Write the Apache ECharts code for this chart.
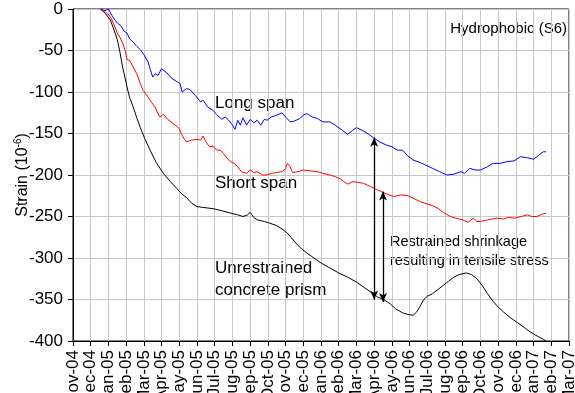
<!DOCTYPE html>
<html>
<head>
<meta charset="utf-8">
<script src="https://cdn.jsdelivr.net/npm/echarts@6/dist/echarts.min.js"></script>
<style>
  html, body { margin: 0; padding: 0; background: #fff; }
  #chart { width: 575px; height: 393px; }
</style>
</head>
<body>
<div id="chart"></div>
<script>
// month tick labels, index 0 = Nov-04
const months = ['Nov-04', 'Dec-04', 'Jan-05', 'Feb-05', 'Mar-05', 'Apr-05', 'May-05', 'Jun-05',
  'Jul-05', 'Aug-05', 'Sep-05', 'Oct-05', 'Nov-05', 'Dec-05', 'Jan-06', 'Feb-06', 'Mar-06',
  'Apr-06', 'May-06', 'Jun-06', 'Jul-06', 'Aug-06', 'Sep-06', 'Oct-06', 'Nov-06', 'Dec-06',
  'Jan-07', 'Feb-07', 'Mar-07'];

// [month index, strain]
const longSpan = [[1.55,0],[1.8,-2],[2.0,0],[2.2,-8],[2.4,-14],[2.5,-17],[2.7,-20],[2.9,-27],[3.05,-29],
  [3.2,-36],[3.4,-40],[3.6,-45],[3.8,-49],[4.0,-55],[4.24,-64],[4.35,-72],[4.5,-82],[4.65,-78],[4.8,-80],
  [5.0,-72],[5.1,-71],[5.3,-77],[5.6,-84],[5.9,-88],[6.05,-90],[6.16,-100],[6.4,-96],[6.6,-97],[6.9,-104],
  [7.2,-112],[7.35,-110],[7.6,-118],[7.9,-122],[8.1,-127],[8.4,-133],[8.6,-130],[8.87,-136],[9.0,-140],
  [9.15,-145],[9.3,-134],[9.45,-140],[9.6,-131],[9.8,-140],[10.0,-133],[10.2,-137],[10.4,-134],[10.6,-140],
  [10.8,-133],[10.96,-134],[11.2,-130],[11.5,-128],[11.8,-125],[12.0,-130],[12.26,-136],[12.5,-135],
  [12.8,-132],[13.0,-128],[13.2,-126],[13.5,-130],[13.8,-132],[14.1,-136],[14.5,-136],[14.8,-140],
  [15.2,-146],[15.5,-151],[15.8,-146],[16.0,-143],[16.4,-147],[16.7,-151],[16.95,-155],[17.3,-160],
  [17.7,-164],[18.0,-166],[18.3,-170],[18.6,-170],[18.9,-177],[19.2,-182],[19.6,-185],[20.0,-189],
  [20.3,-192],[20.7,-196],[21.1,-200],[21.5,-199],[21.9,-196],[22.1,-198],[22.4,-192],[22.7,-194],
  [23.0,-194],[23.4,-190],[23.7,-186],[24.1,-186],[24.5,-184],[24.9,-183],[25.25,-178],[25.6,-179],
  [26.0,-181],[26.3,-176],[26.55,-172],[26.7,-172]];

const shortSpan = [[1.6,0],[1.8,-3],[2.1,-9],[2.3,-18],[2.5,-29],[2.65,-34],[2.8,-41],[2.95,-50],[3.05,-61],
  [3.2,-62],[3.4,-70],[3.6,-78],[3.8,-90],[3.95,-98],[4.2,-105],[4.45,-113],[4.63,-118],[4.8,-126],[4.9,-130],
  [5.1,-127],[5.35,-133],[5.65,-138],[6.0,-144],[6.1,-150],[6.3,-157],[6.4,-160],[6.7,-158],[7.0,-157],
  [7.2,-158],[7.35,-153],[7.5,-160],[7.7,-166],[7.9,-165],[8.1,-170],[8.3,-170],[8.5,-174],[8.7,-180],
  [8.9,-184],[9.1,-186],[9.3,-190],[9.5,-196],[9.6,-195],[9.8,-198],[10.0,-194],[10.2,-197],[10.4,-196],
  [10.7,-200],[10.95,-200],[11.2,-198],[11.5,-197],[11.8,-196],[12.0,-192],[12.1,-186],[12.25,-190],
  [12.4,-197],[12.7,-196],[13.0,-194],[13.4,-195],[13.8,-196],[14.1,-198],[14.5,-200],[14.8,-202],
  [15.1,-205],[15.5,-211],[15.8,-208],[16.1,-209],[16.4,-210],[16.8,-214],[17.2,-218],[17.6,-222],
  [18.1,-226],[18.5,-224],[18.9,-225],[19.2,-228],[19.6,-232],[20.0,-235],[20.3,-237],[20.6,-240],
  [20.9,-245],[21.3,-250],[21.6,-252],[22.0,-254],[22.3,-257],[22.6,-252],[22.8,-256],[23.0,-256],
  [23.4,-254],[23.7,-253],[23.95,-252],[24.3,-253],[24.6,-251],[24.9,-252],[25.3,-250],[25.65,-248],
  [25.9,-250],[26.2,-250],[26.5,-247],[26.7,-246]];

const prism = [[1.55,0],[1.7,-3],[1.85,-6],[2.1,-13],[2.3,-24],[2.5,-37],[2.65,-52],[2.8,-70],[2.95,-84],
  [3.05,-94],[3.2,-107],[3.4,-118],[3.6,-131],[3.8,-143],[4.05,-156],[4.35,-170],[4.7,-185],[5.1,-198],
  [5.5,-208],[5.85,-216],[6.1,-222],[6.4,-227],[6.7,-234],[7.0,-238],[7.3,-239],[7.7,-240],[8.0,-241],
  [8.4,-243],[8.9,-246],[9.3,-248],[9.6,-250],[9.85,-248],[10.0,-245],[10.2,-251],[10.4,-254],[10.8,-256],
  [11.1,-258],[11.5,-261],[11.8,-265],[12.1,-270],[12.5,-280],[12.8,-287],[13.2,-294],[13.6,-300],
  [14.0,-306],[14.5,-312],[15.0,-318],[15.5,-323],[16.0,-329],[16.4,-335],[16.8,-341],[17.2,-347],
  [17.6,-351],[17.9,-355],[18.2,-361],[18.6,-366],[18.9,-368],[19.2,-369],[19.4,-365],[19.6,-358],
  [19.8,-350],[20.0,-346],[20.3,-343],[20.6,-338],[20.9,-333],[21.2,-328],[21.5,-323],[21.8,-320],
  [22.2,-318],[22.5,-320],[22.8,-325],[23.1,-333],[23.4,-343],[23.7,-352],[24.0,-359],[24.3,-365],
  [24.7,-372],[25.1,-378],[25.5,-384],[25.8,-389],[26.2,-394],[26.55,-398],[26.7,-400]];

// double arrows: [month, top, bottom]
const arrows = [[17.0, -155, -350], [17.5, -220, -353]];

const font = 'Liberation Sans, Arial, sans-serif';
const chart = echarts.init(document.getElementById('chart'));

chart.setOption({
  animation: false,
  textStyle: { fontFamily: font },
  grid: { left: 73, right: 6, top: 9, bottom: 52, show: true, borderColor: '#000', borderWidth: 1,
    outerBoundsMode: 'none', containLabel: false },
  xAxis: {
    type: 'value', min: 0, max: 28, interval: 1,
    axisLine: { onZero: false, lineStyle: { color: '#000' } },
    axisTick: { length: 5, lineStyle: { color: '#000' } },
    axisLabel: { rotate: 90, fontSize: 17, color: '#000', margin: 9, hideOverlap: false,
      formatter: v => months[v] || '' },
    splitLine: { lineStyle: { color: '#c8c8c8' } }
  },
  yAxis: {
    type: 'value', min: -400, max: 0, interval: 50,
    name: '{a|Strain (10}{b|-6}{a|)}',
    nameLocation: 'middle', nameGap: 41, nameRotate: 90, nameMoveOverlap: false,
    nameTextStyle: { rich: { a: { fontSize: 16, color: '#000' }, b: { fontSize: 10, color: '#000', padding: [0, 0, 9, 0] } } },
    axisLine: { show: true, lineStyle: { color: '#000' } },
    axisTick: { show: true, length: 5, lineStyle: { color: '#000' } },
    axisLabel: { fontSize: 17, color: '#000', margin: 10 },
    splitLine: { lineStyle: { color: '#c8c8c8' } }
  },
  series: [
    { name: 'Long span', type: 'line', data: longSpan, showSymbol: false,
      lineStyle: { color: '#0000ff', width: 1 }, itemStyle: { color: '#0000ff' } },
    { name: 'Short span', type: 'line', data: shortSpan, showSymbol: false,
      lineStyle: { color: '#ff0000', width: 1 }, itemStyle: { color: '#ff0000' } },
    { name: 'Unrestrained concrete prism', type: 'line', data: prism, showSymbol: false,
      lineStyle: { color: '#000', width: 1 }, itemStyle: { color: '#000' },
      markLine: {
        silent: true, symbol: ['arrow', 'arrow'], symbolSize: [6, 9],
        label: { show: false },
        lineStyle: { color: '#000', width: 1.3, type: 'solid' },
        data: arrows.map(a => [{ coord: [a[0], a[1]] }, { coord: [a[0], a[2]] }])
      } }
  ],
  graphic: [
    { type: 'text', right: 8, top: 21, style: { text: 'Hydrophobic (S6)', font: '15px ' + font, fill: '#000' } },
    { type: 'text', left: 215, top: 95, style: { text: 'Long span', font: '17px ' + font, fill: '#000' } },
    { type: 'text', left: 215, top: 175, style: { text: 'Short span', font: '17px ' + font, fill: '#000' } },
    { type: 'text', left: 215, top: 257, style: { text: 'Unrestrained\nconcrete prism', font: '17px ' + font, lineHeight: 22, fill: '#000' } },
    { type: 'text', left: 390, top: 232, style: { text: 'Restrained shrinkage\nresulting in tensile stress', font: '14.5px ' + font, lineHeight: 19, fill: '#000' } }
  ]
});
</script>
</body>
</html>
